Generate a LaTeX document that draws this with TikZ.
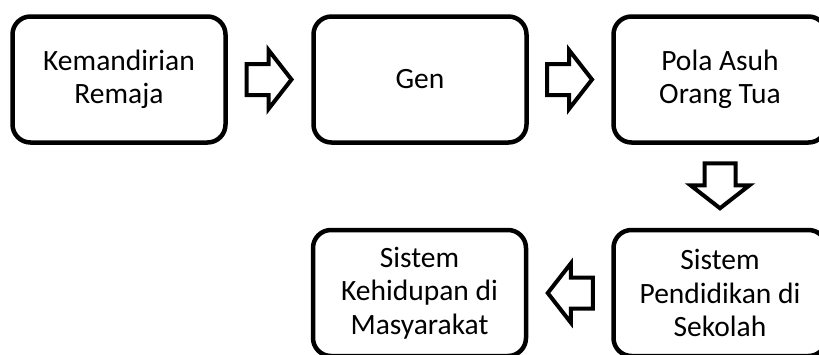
\documentclass[tikz,border=0pt]{standalone}
\usepackage{fontspec}
\setmainfont{Carlito}
\usetikzlibrary{calc}
\begin{document}
\begin{tikzpicture}[x=1pt,y=-1pt,
  box/.style={draw, line width=4.5pt, rounded corners=18pt, minimum width=213pt,
    minimum height=126pt, inner sep=0pt, align=center, font=\fontsize{29.5}{33.5}\selectfont},
  blockarrow/.style={draw, line width=4pt, line join=miter, fill=white},
  barrow/.pic={\draw[blockarrow] (-23,-15.5) -- (-1,-15.5) -- (-1,-29.5) -- (22,0)
     -- (-1,29.5) -- (-1,15.5) -- (-23,15.5) -- cycle;}]
\useasboundingbox (0,0) rectangle (819,354);
\begin{scope}
\clip (0,0) rectangle (819,354);
\node[box] (b1) at (119,79.5) {Kemandirian\\Remaja};
\node[box] (b2) at (420,79.5) {Gen};
\node[box] (b3) at (720,79.5) {Pola Asuh\\Orang Tua};
\node[box] (b4) at (419.5,293) {Sistem\\Kehidupan di\\Masyarakat};
\node[box] (b5) at (720,293) {Sistem\\Pendidikan di\\Sekolah};
\coordinate (m1) at ($(b1.east)!0.5!(b2.west)$);
\coordinate (m2) at ($(b2.east)!0.5!(b3.west)$);
\coordinate (m3) at ($(b3.south)!0.5!(b5.north)$);
\coordinate (m4) at ($(b5.west)!0.5!(b4.east)$);
\pic at (m1) {barrow};
\pic at (m2) {barrow};
\pic[rotate=-90] at (m3) {barrow};
\pic[rotate=180] at (m4) {barrow};
\end{scope}
\end{tikzpicture}
\end{document}
